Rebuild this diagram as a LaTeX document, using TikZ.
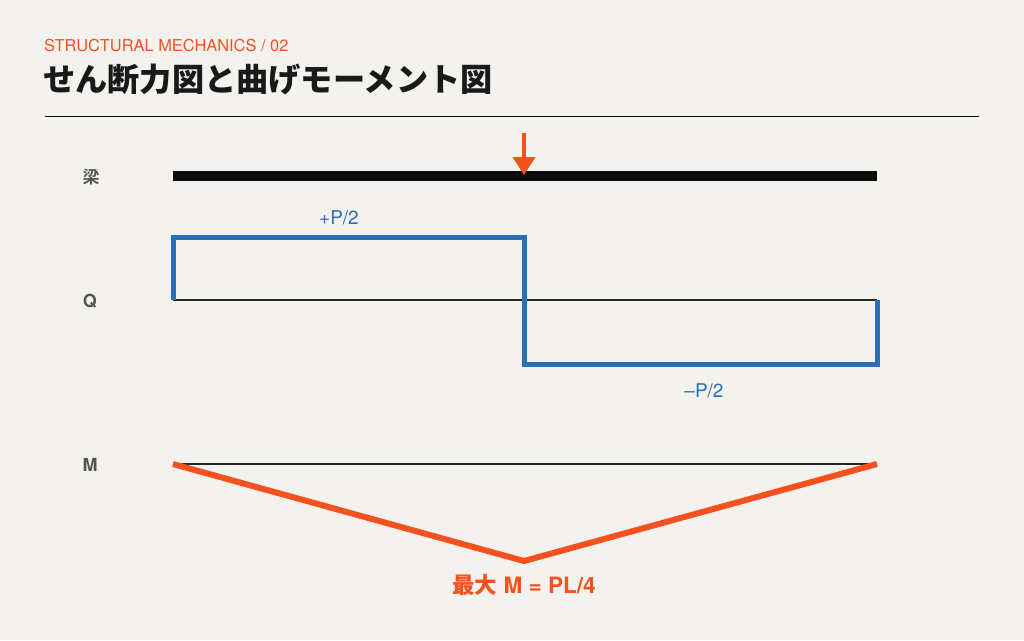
\documentclass[tikz,border=0pt]{standalone}
\usepackage{fontspec}
\setmainfont{TeX Gyre Heros}
\newfontfamily\cjk{Noto Sans CJK JP Bold}
\newfontfamily\cjkblack{Noto Sans CJK JP Black}
\usetikzlibrary{arrows.meta}
\definecolor{bg}{HTML}{F3F2EE}
\definecolor{orng}{HTML}{F4511E}
\definecolor{blu}{HTML}{2B6FB6}
\definecolor{lbl}{HTML}{555555}
\tikzset{
  axisline/.style={draw=black!85, line width=1.3pt},
  rowlabel/.style={text=lbl, font=\fontsize{18}{20}\selectfont\bfseries, anchor=center},
  vallabel/.style={text=blu, font=\fontsize{19}{21}\selectfont, anchor=center},
}
\begin{document}
\begin{tikzpicture}[x=1pt,y=-1pt]
\fill[bg] (0,0) rectangle (1024,640);
\useasboundingbox (0,0) rectangle (1024,640);
% header
\node[anchor=west, text=orng, font=\fontsize{16.4}{18}\selectfont, inner sep=0pt] (kicker) at (44,46) {STRUCTURAL MECHANICS / 02};
\node[anchor=west, text=black!90, font=\fontsize{32.2}{36}\selectfont\cjkblack, inner sep=0pt] (title) at (43,80) {せん断力図と曲げモーメント図};
\coordinate (r1) at (45,116.5);
\coordinate (r2) at (979,116.5);
\draw[black, line width=1.2pt] (r1) -- (r2);
% beam
\node[rowlabel, font=\fontsize{17}{18}\selectfont\cjk] (lbeam) at (91,177) {梁};
\coordinate (b1) at (173,176);
\coordinate (b2) at (877,176);
\draw[black!95, line width=10pt] (b1) -- (b2);
\coordinate (a1) at (524,133);
\coordinate (a2) at (524,175);
\draw[orng, line width=4pt, -{Triangle[width=22pt,length=18pt]}] (a1) -- (a2);
% Q
\node[rowlabel] (lq) at (90,301) {Q};
\coordinate (q1) at (173,300);
\coordinate (q2) at (877,300);
\draw[axisline] (q1) -- (q2);
\coordinate (qa) at (173,237);
\coordinate (qb) at (524,237);
\coordinate (qc) at (524,364);
\coordinate (qd) at (877,364);
\draw[blu, line width=5pt, line join=miter] (q1) -- (qa) -- (qb) -- (qc) -- (qd) -- (q2);
\node[vallabel] (qp) at (339,218) {+P/2};
\node[vallabel] (qm) at (704,391) {\textendash P/2};
% M
\node[rowlabel] (lm) at (90,465) {M};
\coordinate (m1) at (173,464);
\coordinate (m2) at (877,464);
\draw[axisline] (m1) -- (m2);
\coordinate (mc) at (524,561);
\draw[orng, line width=6pt, line join=miter] (m1) -- (mc) -- (m2);
\node[text=orng, font=\fontsize{22.5}{24}\selectfont\bfseries, anchor=center] (mmax) at (524,585) {{\cjk 最大} M = PL/4};
\end{tikzpicture}
\end{document}
